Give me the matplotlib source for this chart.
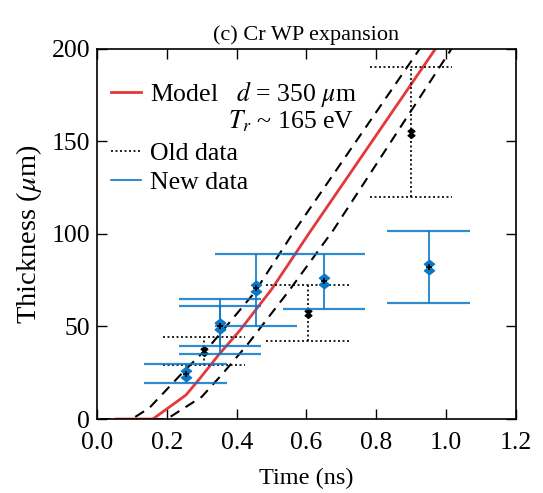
"""
Cr WP expansion: model curve with bounds, old and new thickness data.
"""

import matplotlib

matplotlib.use("Agg")
import matplotlib.pyplot as plt
from matplotlib.lines import Line2D
from matplotlib.path import Path

# model curve and its two bounds (time in ns, thickness in um)
model_t = [0.055, 0.16, 0.255, 0.295, 0.35, 0.41, 0.50, 0.61, 0.97]
model_y = [0, 0, 13, 22, 35, 48, 70, 101, 200]
upper_t = [0.01, 0.10, 0.15, 0.25, 0.33, 0.45, 0.56, 0.925]
upper_y = [0, 0, 6, 26, 41, 68, 100, 200]
lower_t = [0.01, 0.20, 0.30, 0.36, 0.43, 0.553, 0.677, 1.016]
lower_y = [0, 0, 12, 24.5, 40, 70, 102, 200]

# old data
old_t = [0.306, 0.603, 0.90]
old_y = [37, 57, 154.5]
old_lo = [29, 42.3, 119.6]
old_hi = [44.5, 72.4, 190]

# new data
new_t = [0.254, 0.352, 0.352, 0.455, 0.651, 0.950]
new_y = [24.5, 50, 50, 70.5, 74.5, 82.3]
new_lo = [19.5, 39.5, 35, 50, 59.4, 62.9]
new_hi = [29.5, 61, 65, 89.2, 89.2, 101.6]

CAP_HALF = 0.118  # half width of the time bars (ns)
RED = "#e5383b"
BLUE = "#0b78c6"

plt.rcParams["font.family"] = ["Liberation Serif", "DejaVu Serif"]
plt.rcParams["mathtext.fontset"] = "stix"
plt.rcParams["font.size"] = 16

# two stacked diamonds, like the markers in the original
w = 0.7
double_diamond = Path(
    [(0, 1.0), (w, 0.45), (0, -0.1), (-w, 0.45), (0, 1.0),
     (0, 0.1), (w, -0.45), (0, -1.0), (-w, -0.45), (0, 0.1)],
    [Path.MOVETO, Path.LINETO, Path.LINETO, Path.LINETO, Path.CLOSEPOLY] * 2,
)

fig = plt.figure(figsize=(5.43, 4.93), dpi=100)
ax = fig.add_axes([0.1786, 0.150, 0.7716, 0.7516])

ax.plot(upper_t, upper_y, color="black", lw=1.5, ls=(0, (5, 3.5)))
ax.plot(lower_t, lower_y, color="black", lw=1.5, ls=(0, (5, 3.5)))
ax.plot(model_t, model_y, color=RED, lw=2)

# old data: dotted bars
ax.vlines(old_t, old_lo, old_hi, color="black", lw=1.2, ls=(0, (1.2, 1.5)))
for t, lo, hi in zip(old_t, old_lo, old_hi):
    ax.hlines([lo, hi], t - CAP_HALF, t + CAP_HALF, color="black", lw=1.2,
              ls=(0, (1.2, 1.5)))
ax.plot(old_t, old_y, ls="none", marker=double_diamond, ms=7, color="black")

# new data: blue bars
ax.vlines(new_t, new_lo, new_hi, color=BLUE, lw=1.2)
for t, lo, hi in zip(new_t, new_lo, new_hi):
    ax.hlines([lo, hi], t - CAP_HALF, t + CAP_HALF, color=BLUE, lw=1.6,
              alpha=0.85)
ax.plot(new_t, new_y, ls="none", marker=double_diamond, ms=10.5, color=BLUE)
ax.plot(new_t, new_y, ls="none", marker="+", ms=4, mew=1.2, color="black")

ax.set_xlim(0, 1.2)
ax.set_ylim(0, 200)
ax.set_xticks([0.0, 0.2, 0.4, 0.6, 0.8, 1.0, 1.2])
ax.set_xticklabels(["0.0", "0.2", "0.4", "0.6", "0.8", "1.0", "1.2"])
ax.set_yticks([0, 50, 100, 150, 200])
ax.tick_params(direction="in", length=7, width=1, top=True, right=True,
               labelsize=18.5)
ax.tick_params(axis="x", pad=9.5)
ax.tick_params(axis="y", pad=5)
for s in ax.spines.values():
    s.set_linewidth(1.2)

ax.set_xlabel("Time (ns)", fontsize=17.5, labelpad=10)
ax.set_ylabel(r"Thickness ($\mu$m)", fontsize=20.5, labelpad=5)
ax.set_title("(c) Cr WP expansion", fontsize=16, pad=6)

handles = [
    Line2D([], [], color=RED, lw=2),
    Line2D([], [], color="none"),
    Line2D([], [], color="black", lw=1.2, ls=(0, (1.2, 1.5))),
    Line2D([], [], color=BLUE, lw=1.2),
]
labels = [r"Model   $d$ = 350 $\mu$m", " ", "Old data", "New data"]
ax.legend(handles, labels, loc="upper left", frameon=False, fontsize=18.5,
          handlelength=1.15, handletextpad=0.35, labelspacing=0.2,
          borderaxespad=0.0, bbox_to_anchor=(0.01, 0.945))
ax.text(0.3126, 0.805, r"$T_r$ ~ 165 eV", transform=ax.transAxes,
        fontsize=18.5, va="center", ha="left")

fig.savefig("out.png", dpi=100)
